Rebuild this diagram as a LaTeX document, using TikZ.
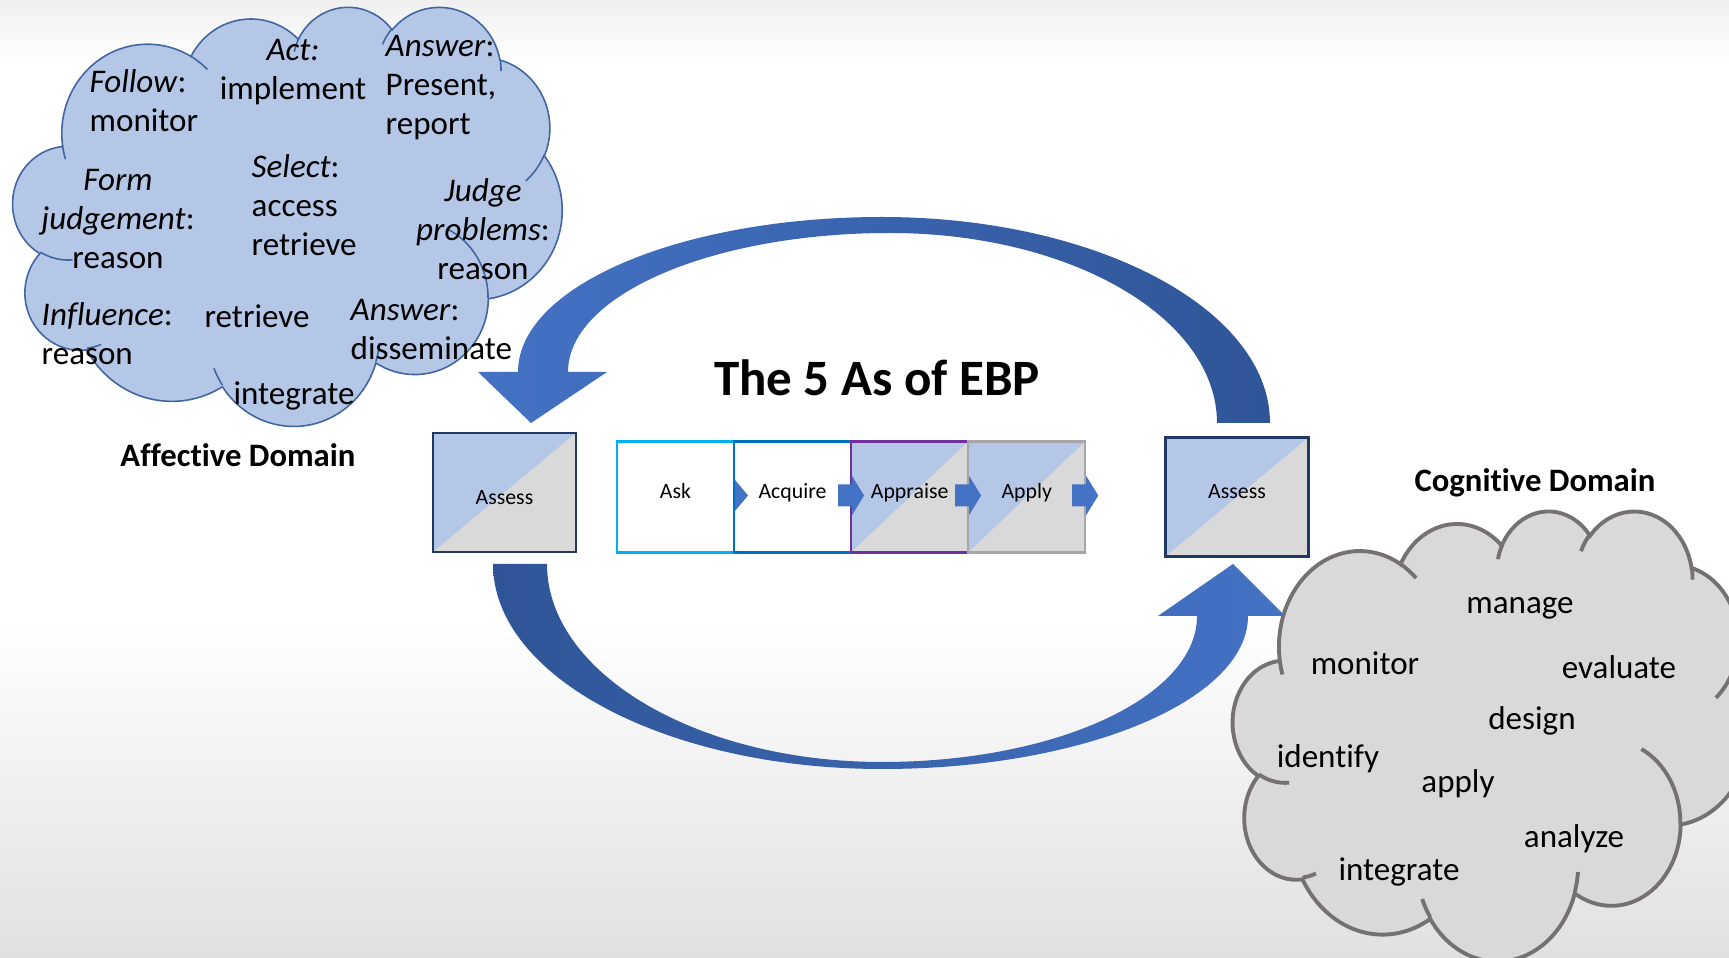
\documentclass[tikz,border=0pt]{standalone}
\usepackage{fontspec}
\setmainfont{Carlito}[Ligatures=NoCommon]
\usetikzlibrary{positioning}

\definecolor{cloudblue}{HTML}{B4C7E7}
\definecolor{cloudedge}{HTML}{41669F}
\definecolor{cloudgray}{HTML}{D9D9D9}
\definecolor{cloudgrayedge}{HTML}{767171}
\definecolor{arrowblue}{HTML}{4472C4}
\definecolor{arrowdark}{HTML}{2F5597}
\definecolor{navy}{HTML}{1F3864}
\definecolor{askcyan}{HTML}{00B0F0}
\definecolor{acqblue}{HTML}{0070C0}
\definecolor{apprpurple}{HTML}{7030A0}
\definecolor{applygray}{HTML}{A6A6A6}

\tikzset{
  % cloud outline, drawn in a 432 x 432 box
  cloudshape/.pic={
    \path[pic actions] (39,143.7)
      arc[start angle=172.25, delta angle=128.11, x radius=67.53, y radius=91.90]
      arc[start angle=-152.04, delta angle=106.58, x radius=53.33, y radius=72.67]
      arc[start angle=-153.50, delta angle=116.16, x radius=43.65, y radius=59.45]
      arc[start angle=-139.72, delta angle=129.51, x radius=48.57, y radius=65.95]
      arc[start angle=-74.77, delta angle=97.98, x radius=53.33, y radius=72.73]
      arc[start angle=-37.52, delta angle=119.38, x radius=67.75, y radius=92.20]
      arc[start angle=0.46, delta angle=121.52, x radius=57.85, y radius=78.67]
      arc[start angle=16.85, delta angle=129.38, x radius=67.52, y radius=92.15]
      arc[start angle=58.98, delta angle=91.22, x radius=77.20, y radius=105.43]
      arc[start angle=83.31, delta angle=139.80, x radius=43.60, y radius=59.18]
      arc[start angle=120.35, delta angle=143.76, x radius=43.45, y radius=59.45]
      -- cycle;
    \path[pic actions, fill=none]
      (46.93,261.77) arc[start angle=85.55, delta angle=34.80, x radius=43.45, y radius=59.45]
      (69.28,348.99) arc[start angle=68.24, delta angle=15.07, x radius=43.60, y radius=59.18]
      (164.78,390.90) arc[start angle=146.23, delta angle=12.24, x radius=67.52, y radius=92.15]
      (288.27,347.51) arc[start angle=4.74, delta angle=12.11, x radius=67.52, y radius=92.15]
      (341.29,229.54) arc[start angle=-64.03, delta angle=64.49, x radius=57.85, y radius=78.67]
      (417.98,153.54) arc[start angle=23.21, delta angle=26.43, x radius=53.33, y radius=72.73]
      (383.24,54.26) arc[start angle=-10.21, delta angle=11.03, x radius=48.57, y radius=65.95]
      (290.78,39.52) arc[start angle=-156.29, delta angle=16.57, x radius=48.57, y radius=65.95]
      (221.41,47.20) arc[start angle=-167.73, delta angle=13.51, x radius=43.65, y radius=59.45]
      (140.00,51.92) arc[start angle=-59.64, delta angle=13.89, x radius=67.53, y radius=91.90]
      (41.27,157.89) arc[start angle=163.18, delta angle=9.07, x radius=67.53, y radius=91.90];
  },
  splitfill/.style={fill=cloudblue, path picture={
    \fill[cloudgray] (path picture bounding box.south west)
      -- (path picture bounding box.north east)
      -- (path picture bounding box.south east) -- cycle;}},
  stepbox/.style={draw, line width=0.7pt, outer sep=0pt, inner sep=0pt,
    minimum width=1.17cm, minimum height=1.11cm, font=\fontsize{6.2}{7}\selectfont,
    text height=4.4pt, text depth=3.6pt},
  assessbox/.style={stepbox, splitfill, draw=navy, minimum width=1.43cm, minimum height=1.19cm},
  cloudtext/.style={inner sep=0pt, font=\fontsize{9.4}{11.1}\selectfont},
  domainlabel/.style={inner sep=0pt, font=\bfseries\fontsize{9.3}{11}\selectfont}
}

\begin{document}
\begin{tikzpicture}[x=0.01cm, y=-0.01cm]
  \useasboundingbox (0,0) rectangle (1729,958);
  \clip (0,0) rectangle (1729,958);

  % background
  \fill[white] (0,0) rectangle (1729,958);
  \shade[top color=black!6, bottom color=white] (0,0) rectangle (1729,60);
  \shade[top color=white, bottom color=black!12] (0,620) rectangle (1729,958);

  % clouds
  \pic[fill=cloudblue, draw=cloudedge, line width=0.45pt, xscale=549/432, yscale=419/432] at (13,6) {cloudshape};
  \pic[fill=cloudgray, draw=cloudgrayedge, line width=1.1pt, xscale=517/432, yscale=450/432] at (1233,510) {cloudshape};

  % big curved arrows
  \shade[left color=arrowblue, right color=arrowdark]
    (1270,423) .. controls (1270,309) and (1096,217) .. (882,217)
    .. controls (681,217) and (518,286) .. (518,372)
    -- (478,372) -- (531,423) -- (607,372) -- (568,372)
    .. controls (568,295) and (712,233) .. (890,233)
    .. controls (1071,233) and (1217,318) .. (1217,423) -- cycle;
  \shade[left color=arrowdark, right color=arrowblue]
    (493,564) .. controls (493,677) and (667,769) .. (882,769)
    .. controls (1084,769) and (1248,700) .. (1248,616)
    -- (1285,616) -- (1233,564) -- (1158,616) -- (1197,616)
    .. controls (1197,697) and (1056,762) .. (882,762)
    .. controls (697,762) and (547,673) .. (547,564) -- cycle;

  % boxes
  \node[assessbox, text height=8.4pt, text depth=1.3pt] (assessL) at (504.5,492.5) {Assess};
  \node[stepbox, draw=askcyan, fill=white] (ask) at (675.5,497) {Ask};
  \node[stepbox, draw=acqblue, fill=white, right=0pt of ask] (acquire) {Acquire};
  \node[stepbox, splitfill, draw=apprpurple, right=0pt of acquire] (appraise) {Appraise};
  \node[stepbox, splitfill, draw=applygray, right=0pt of appraise] (apply) {Apply};
  \node[assessbox] (assessR) at (1237,497) {Assess};

  % small arrows between the steps
  \fill[arrowblue, shift={(acquire.west)}] (1,-17) -- (14,-1.5) -- (1,14) -- cycle;
  \foreach \at in {appraise.west, apply.west, apply.east}
    \fill[arrowblue, shift={(\at)}] (-13,-12.5) -- (1,-12.5) -- (1,-21) -- (13,-1.5)
      -- (1,18) -- (1,9.5) -- (-13,9.5) -- cycle;

  % titles
  \node[inner sep=0pt, font=\bfseries\fontsize{14.5}{17}\selectfont] (title) at (877,378) {The 5 As of EBP};
  \node[domainlabel] (affective) at (238,455) {Affective Domain};
  \node[domainlabel] (cognitive) at (1535,483) {Cognitive Domain};

  % affective words
  \node[cloudtext, anchor=west, align=left] (follow) at (89,101) {\textit{Follow}:\\monitor};
  \node[cloudtext, align=center] (act) at (293,72) {\textit{Act:}\\implement};
  \node[cloudtext, anchor=west, align=left] (answerA) at (385,88) {\textit{Answer}:\\Present,\\report};
  \node[cloudtext, align=center] (form) at (118,219) {\textit{Form}\\\textit{judgement}:\\reason};
  \node[cloudtext, anchor=west, align=left] (select) at (251,205) {\textit{Select}:\\access\\retrieve};
  \node[cloudtext, align=center] (judge) at (483,229) {\textit{Judge}\\\textit{problems}:\\reason};
  \node[cloudtext, anchor=west, align=left] (influence) at (41,334) {\textit{Influence}:\\reason};
  \node[cloudtext] (retrieveA) at (257,316) {retrieve};
  \node[cloudtext, anchor=west, align=left] (answerB) at (350,330) {\textit{Answer}:\\disseminate};
  \node[cloudtext] (integrateA) at (294,396) {integrate};

  % cognitive words
  \node[cloudtext] (manage) at (1520,608) {manage};
  \node[cloudtext] (monitor) at (1365,663) {monitor};
  \node[cloudtext] (evaluate) at (1619,667) {evaluate};
  \node[cloudtext] (design) at (1532,721) {design};
  \node[cloudtext] (identify) at (1328,759) {identify};
  \node[cloudtext] (applyB) at (1458,784) {apply};
  \node[cloudtext] (analyze) at (1574,839) {analyze};
  \node[cloudtext] (integrateB) at (1399,872) {integrate};
\end{tikzpicture}
\end{document}
